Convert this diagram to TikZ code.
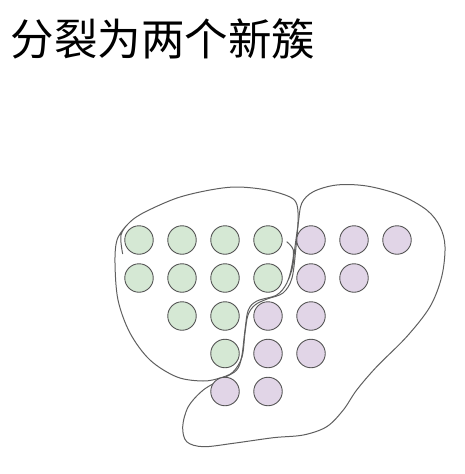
\documentclass[tikz,border=0pt]{standalone}
\usepackage{fontspec}
\newfontfamily\cjk{Noto Sans CJK SC}
\definecolor{gfill}{HTML}{D5E8D4}
\definecolor{pfill}{HTML}{E1D5E7}
\definecolor{edge}{HTML}{555555}
\definecolor{loop}{HTML}{5F5F5F}
\tikzset{
  dot/.style={circle, draw=edge, line width=0.9pt, minimum size=28.5pt, inner sep=0pt},
  gdot/.style={dot, fill=gfill},
  pdot/.style={dot, fill=pfill},
  blob/.style={draw=loop, line width=1pt}
}
\begin{document}
\begin{tikzpicture}[x=1pt,y=-1pt]
\useasboundingbox (0,0) rectangle (465,474);
\node[anchor=west, inner sep=0pt] (title) at (10.5,39) {\cjk\fontsize{43.5}{48}\selectfont 分裂为两个新簇};
% cluster outlines
\draw[blob] plot[smooth, tension=0.55] coordinates {
 (122.7,254) (121,235) (130,222) (145,212) (177,198) (210,190) (237,187) (267,190) (290,197) (297,205) (298,222) (296,247) (292,278) (283,293) (267,299) (255,305) (248,315) (245,333) (242,357) (233,372) (220,378) (203,381) (177,377) (150,360) (130,333) (118,300) (115,263) (117,240) (126,226)};
\draw[blob] plot[smooth, tension=0.55] coordinates {
 (286.7,241.7) (293.3,250) (291.7,266.7) (286.7,283.3) (276.7,295) (257,301) (248.3,310) (245,330) (241.7,356.7) (236.7,370) (223.3,378.3) (203.3,390) (188.3,406.7) (182.7,426.7) (186.7,441.7) (203.3,446.7) (233.3,443.3) (273.3,437.7) (303.3,435) (326.7,426.7) (343.3,410) (356.7,390) (376.7,366.7) (406.7,336.7) (430,306.7) (441.7,276.7) (445,246.7) (440,226.7) (426.7,210) (400,195) (366.7,186) (336.7,185) (313.3,191.7) (301.7,203.3) (298.3,223.3) (295,246.7) (292.7,266.7) (288.3,280)};
% points
\node[gdot] (a1) at (139,240) {};
\node[gdot] (a2) at (182,240) {};
\node[gdot] (a3) at (225,240) {};
\node[gdot] (a4) at (268,240) {};
\node[pdot] (a5) at (311,240) {};
\node[pdot] (a6) at (354,240) {};
\node[pdot] (a7) at (397,240) {};
\node[gdot] (b1) at (139,278) {};
\node[gdot] (b2) at (182,278) {};
\node[gdot] (b3) at (225,278) {};
\node[gdot] (b4) at (268,278) {};
\node[pdot] (b5) at (311,278) {};
\node[pdot] (b6) at (354,278) {};
\node[gdot] (c2) at (182,316) {};
\node[gdot] (c3) at (225,316) {};
\node[pdot] (c4) at (268,316) {};
\node[pdot] (c5) at (311,316) {};
\node[gdot] (d3) at (225,353.5) {};
\node[pdot] (d4) at (268,353.5) {};
\node[pdot] (d5) at (311,353.5) {};
\node[pdot] (e3) at (225,391.5) {};
\node[pdot] (e4) at (268,391.5) {};
\end{tikzpicture}
\end{document}
